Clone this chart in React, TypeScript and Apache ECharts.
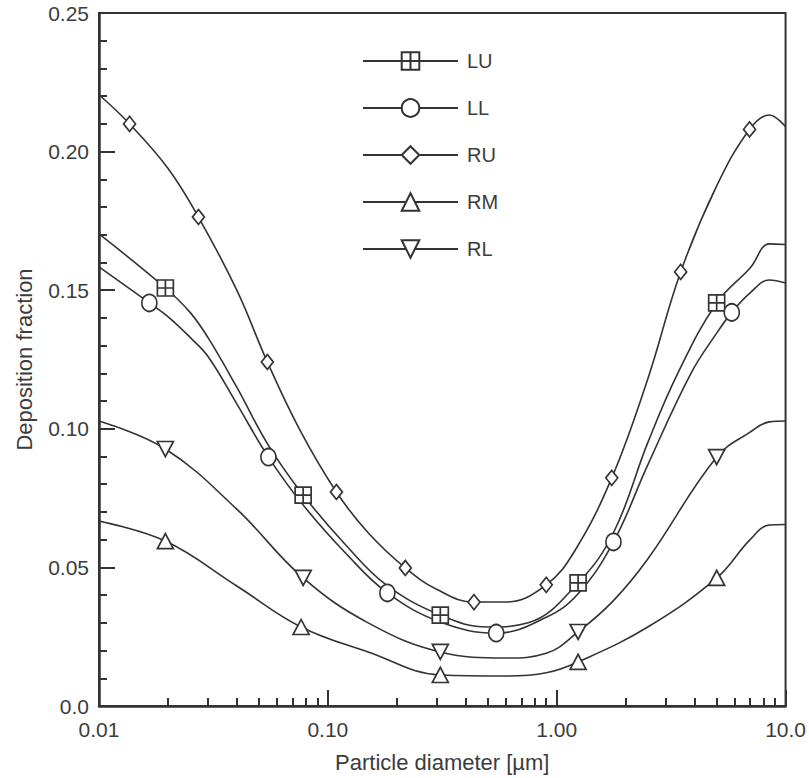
import React, { useEffect, useRef } from "react";
import * as echarts from "echarts";

// ---- Data ----
const seriesNames = ["LU", "LL", "RU", "RM", "RL"];

// LU (square with cross)
const luX = [0.01, 0.0195, 0.025, 0.03, 0.04, 0.055, 0.078, 0.12, 0.18, 0.31, 0.5, 0.75, 1.24, 1.77, 2.5, 3.38, 5, 7, 8.5, 10];
const luY = [0.1703, 0.1508, 0.142, 0.1328, 0.115, 0.094, 0.0761, 0.058, 0.0437, 0.0328, 0.0285, 0.030, 0.0444, 0.0625, 0.095, 0.120, 0.1454, 0.158, 0.1667, 0.1665];
const luMark = [0, 1, 0, 0, 0, 0, 1, 0, 0, 1, 0, 0, 1, 0, 0, 0, 1, 0, 0, 0];

// LL (circle)
const llX = [0.01, 0.0166, 0.02, 0.025, 0.03, 0.04, 0.055, 0.078, 0.12, 0.182, 0.31, 0.544, 0.9, 1.24, 1.77, 2.5, 3.86, 5, 5.82, 7, 8.5, 10];
const llY = [0.1584, 0.1454, 0.1405, 0.133, 0.126, 0.109, 0.0898, 0.0725, 0.055, 0.0408, 0.0303, 0.0263, 0.032, 0.0405, 0.0592, 0.087, 0.120, 0.1345, 0.142, 0.149, 0.1537, 0.1526];
const llMark = [0, 1, 0, 0, 0, 0, 1, 0, 0, 1, 0, 1, 0, 0, 1, 0, 0, 0, 1, 0, 0, 0];

// RU (diamond)
const ruX = [0.01, 0.0136, 0.02, 0.0272, 0.04, 0.0544, 0.075, 0.109, 0.15, 0.218, 0.3, 0.435, 0.6, 0.9, 1.2, 1.74, 2.5, 3.48, 5, 6.96, 8.5, 10];
const ruY = [0.2205, 0.210, 0.194, 0.1764, 0.150, 0.1241, 0.100, 0.0772, 0.0625, 0.0498, 0.042, 0.0375, 0.0375, 0.0437, 0.056, 0.0823, 0.118, 0.1566, 0.1876, 0.2080, 0.2132, 0.209];
const ruMark = [0, 1, 0, 1, 0, 1, 0, 1, 0, 1, 0, 1, 0, 1, 0, 1, 0, 1, 0, 1, 0, 0];

// RM (triangle up)
const rmX = [0.01, 0.0195, 0.04, 0.0764, 0.15, 0.31, 0.6, 0.9, 1.24, 2.5, 5, 7, 8.5, 10];
const rmY = [0.0667, 0.0595, 0.0433, 0.0285, 0.0195, 0.0112, 0.0108, 0.012, 0.0159, 0.0285, 0.0462, 0.060, 0.0653, 0.0655];
const rmMark = [0, 1, 0, 1, 0, 1, 0, 0, 1, 0, 1, 0, 0, 0];

// RL (triangle down)
const rlX = [0.01, 0.0195, 0.04, 0.078, 0.15, 0.31, 0.6, 0.9, 1.24, 1.77, 2.5, 5, 7, 8.5, 10];
const rlY = [0.1028, 0.0927, 0.071, 0.0462, 0.030, 0.0195, 0.0173, 0.019, 0.0267, 0.038, 0.053, 0.0898, 0.0988, 0.1025, 0.1028];
const rlMark = [0, 1, 0, 1, 0, 1, 0, 0, 1, 0, 0, 1, 0, 0, 0];

// Axis ticks / labels
const xMajorTicks = [0.01, 0.1, 1, 10];
const xMinorTicks = [
  0.02, 0.03, 0.04, 0.05, 0.06, 0.07, 0.08, 0.09,
  0.2, 0.3, 0.4, 0.5, 0.6, 0.7, 0.8, 0.9,
  2, 3, 4, 5, 6, 7, 8, 9,
];
const xTickLabels: Record<string, string> = { "-2": "0.01", "-1": "0.10", "0": "1.00", "1": "10.0" };

const FONT = "'Liberation Sans', Arial, Helvetica, sans-serif";
const INK = "#333333";
const TEXT = "#3c3c3c";

const SQUARE_CROSS = "path://M0,0L16,0L16,16L0,16Z M8,0L8,16 M0,8L16,8";

function buildData(xs: number[], ys: number[], marks: number[]) {
  return xs.map((x, i) =>
    marks[i] ? { value: [x, ys[i]] } : { value: [x, ys[i]], symbol: "none" }
  );
}

function lineSeries(name: string, data: any[], symbol: string, symbolSize: any, rotate = 0) {
  return {
    name,
    type: "line",
    data,
    smooth: 0.4,
    symbol,
    symbolSize,
    symbolRotate: rotate,
    showSymbol: true,
    lineStyle: { color: INK, width: 1.6 },
    itemStyle: { color: "#ffffff", borderColor: INK, borderWidth: 1.7 },
    emphasis: { disabled: true },
  };
}

export default function App() {
  const ref = useRef<HTMLDivElement>(null);

  useEffect(() => {
    if (!ref.current) return;
    const chart = echarts.init(ref.current, undefined, { renderer: "svg" });

    const option: any = {
      animation: false,
      backgroundColor: "#ffffff",
      grid: {
        left: 99,
        right: 17,
        top: 13,
        bottom: 72,
        show: true,
        borderColor: INK,
        borderWidth: 2,
        containLabel: false,
      },
      legend: {
        orient: "vertical",
        left: 357,
        top: 46,
        itemWidth: 95,
        itemHeight: 22,
        itemGap: 27,
        data: seriesNames,
        textStyle: { fontSize: 20, color: TEXT, fontFamily: FONT, padding: [0, 0, 0, 4] },
      },
      xAxis: [
        {
          type: "log",
          logBase: 10,
          min: 0.01,
          max: 10,
          position: "bottom",
          name: "Particle diameter [µm]",
          nameLocation: "middle",
          nameGap: 45,
          nameTextStyle: { fontSize: 22, color: TEXT, fontFamily: FONT },
          axisLine: { show: true, lineStyle: { color: INK, width: 2.5 } },
          axisTick: {
            show: true,
            inside: true,
            length: 16,
            lineStyle: { color: INK, width: 2 },
            customValues: xMajorTicks,
          },
          minorTick: { show: false },
          axisLabel: {
            customValues: xMajorTicks,
            margin: 13,
            fontSize: 21,
            color: TEXT,
            fontFamily: FONT,
            formatter: (v: number) => xTickLabels[String(Math.round(Math.log10(v)))] ?? String(v),
          },
          splitLine: { show: false },
        },
        {
          type: "log",
          logBase: 10,
          min: 0.01,
          max: 10,
          position: "bottom",
          axisLine: { show: false },
          axisTick: {
            show: true,
            inside: true,
            length: 8,
            lineStyle: { color: INK, width: 2 },
            customValues: xMinorTicks,
          },
          axisLabel: { show: false },
          splitLine: { show: false },
        },
      ],
      yAxis: {
        type: "value",
        min: 0,
        max: 0.25,
        interval: 0.05,
        name: "Deposition fraction",
        nameLocation: "middle",
        nameGap: 64,
        nameRotate: 90,
        nameTextStyle: { fontSize: 22, color: TEXT, fontFamily: FONT },
        axisLine: { show: true, lineStyle: { color: INK, width: 2.5 } },
        axisTick: { show: true, inside: true, length: 16, lineStyle: { color: INK, width: 2 } },
        minorTick: { show: true, splitNumber: 5, length: 8, lineStyle: { color: INK, width: 2 } },
        axisLabel: {
          margin: 10,
          fontSize: 21,
          color: TEXT,
          fontFamily: FONT,
          formatter: (v: number) => (v === 0 ? "0.0" : v.toFixed(2)),
        },
        splitLine: { show: false },
      },
      series: [
        lineSeries("LU", buildData(luX, luY, luMark), SQUARE_CROSS, 16),
        lineSeries("LL", buildData(llX, llY, llMark), "circle", [15, 17]),
        lineSeries("RU", buildData(ruX, ruY, ruMark), "diamond", [12, 15]),
        lineSeries("RM", buildData(rmX, rmY, rmMark), "triangle", [16, 15]),
        lineSeries("RL", buildData(rlX, rlY, rlMark), "triangle", [16, 15], 180),
      ],
    };

    chart.setOption(option);
    return () => chart.dispose();
  }, []);

  return (
    <div
      ref={ref}
      style={{ position: "absolute", left: 0, top: 0, width: 809, height: 778 }}
    />
  );
}
